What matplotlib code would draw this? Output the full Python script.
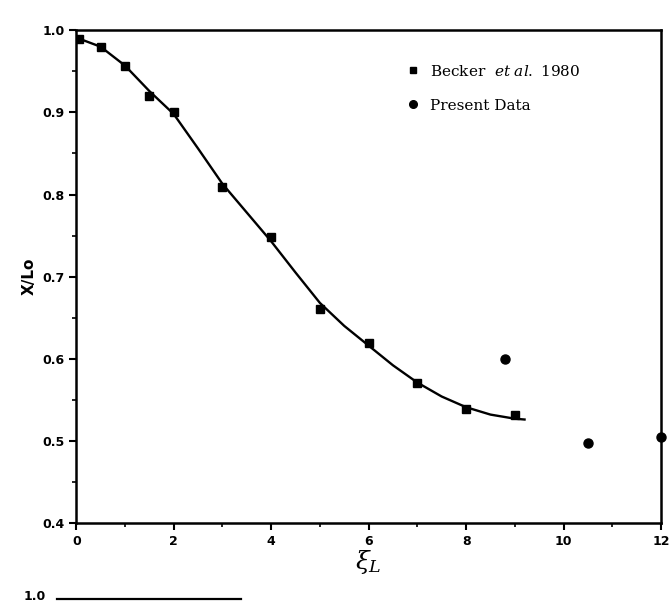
import matplotlib.pyplot as plt
from matplotlib.ticker import MultipleLocator
from matplotlib.lines import Line2D

# Becker et al. 1980 (squares)
becker_x = [0.05, 0.5, 1.0, 1.5, 2.0, 3.0, 4.0, 5.0, 6.0, 7.0, 8.0, 9.0]
becker_y = [0.990, 0.980, 0.957, 0.920, 0.900, 0.809, 0.748, 0.661, 0.619, 0.570, 0.539, 0.531]

# fitted curve
curve_x = [0.05, 0.5, 1.0, 1.5, 2.0, 2.5, 3.0, 3.5, 4.0, 4.5, 5.0, 5.5, 6.0, 6.5, 7.0, 7.5, 8.0, 8.5, 9.0, 9.2]
curve_y = [0.990, 0.980, 0.957, 0.926, 0.898, 0.856, 0.813, 0.778, 0.743, 0.705, 0.668, 0.640, 0.616, 0.592, 0.571, 0.554, 0.541, 0.532, 0.527, 0.526]

# present data (circles)
present_x = [8.8, 10.5, 12.0]
present_y = [0.600, 0.498, 0.505]

plt.rcParams['mathtext.fontset'] = 'dejavuserif'

fig = plt.figure(figsize=(6.69, 6.06), dpi=100)
ax = fig.add_axes([0.114, 0.137, 0.874, 0.813])

ax.plot(curve_x, curve_y, color='black', lw=1.7, zorder=2)
ax.plot(becker_x, becker_y, 's', color='black', ms=6, mec='black', zorder=3)
ax.plot(present_x, present_y, 'o', color='black', ms=6.5, zorder=3, clip_on=False)

ax.set_xlim(0, 12)
ax.set_ylim(0.4, 1.0)
ax.xaxis.set_major_locator(MultipleLocator(2))
ax.xaxis.set_minor_locator(MultipleLocator(1))
ax.yaxis.set_major_locator(MultipleLocator(0.1))
ax.yaxis.set_minor_locator(MultipleLocator(0.05))
ax.tick_params(which='major', direction='out', length=5, width=1.5, labelsize=9)
ax.tick_params(which='minor', direction='out', length=3, width=1.2)
ax.set_xticklabels([f"{int(v)}" for v in ax.get_xticks()])
ax.set_yticklabels([f"{v:.1f}" for v in ax.get_yticks()])
for lab in ax.get_xticklabels() + ax.get_yticklabels():
    lab.set_fontweight('bold')

for s in ax.spines.values():
    s.set_linewidth(1.8)

ax.set_ylabel('X/Lo', fontsize=11, fontweight='bold', labelpad=4)
ax.set_xlabel(r'$\xi_{\it{L}}$', fontsize=18, labelpad=0)

handles = [Line2D([], [], marker='s', ls='', color='black', ms=5),
           Line2D([], [], marker='o', ls='', color='black', ms=5.5)]
labels = [r'Becker  $\it{et\ al.}$ 1980', 'Present Data']
ax.legend(handles, labels, loc='upper left', bbox_to_anchor=(0.54, 0.96),
          frameon=False, prop={'family': 'DejaVu Serif', 'size': 11},
          handletextpad=0.6, labelspacing=1.3, handlelength=1.0)

# top of the next panel, cut off by the page
fig.text(0.035, 0.005, '1.0', fontsize=9, fontweight='bold', va='bottom')
fig.add_artist(Line2D([0.085, 0.36], [0.012, 0.012], color='black', lw=1.6))

fig.savefig('out.png', dpi=100)
